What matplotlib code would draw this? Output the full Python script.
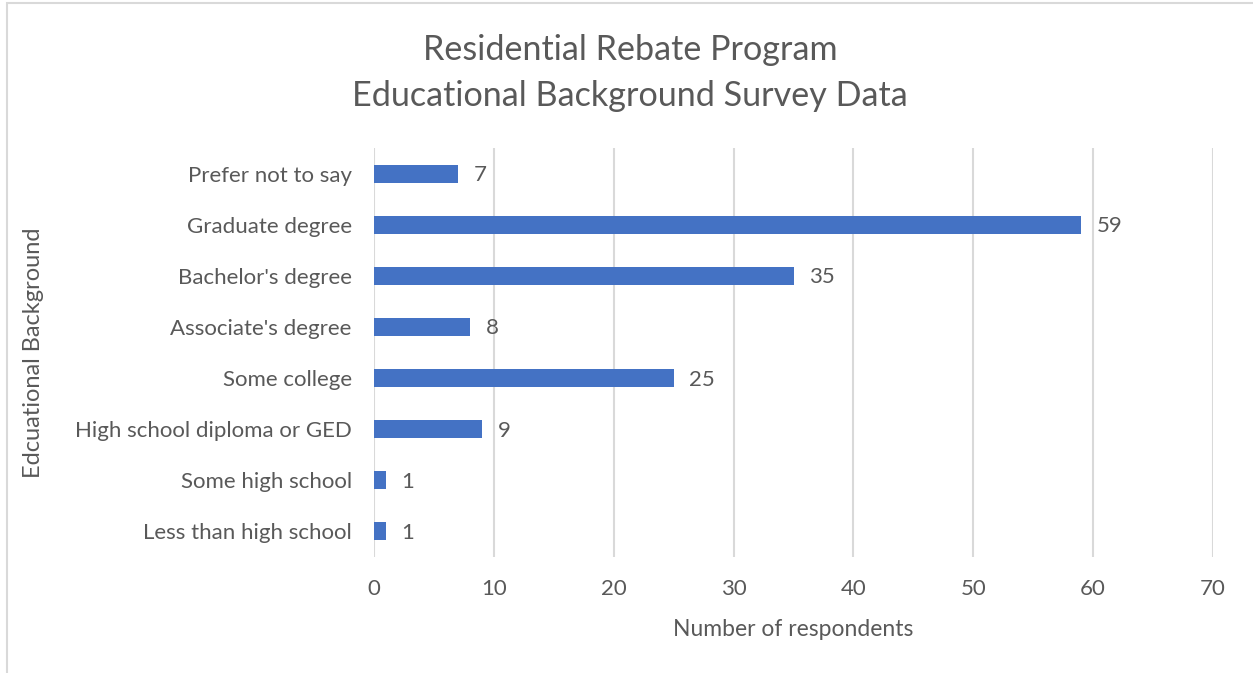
import matplotlib.pyplot as plt
from matplotlib.patches import Rectangle

plt.rcParams['font.family'] = ['Lato', 'DejaVu Sans']

categories = ["Less than high school", "Some high school", "High school diploma or GED",
              "Some college", "Associate's degree", "Bachelor's degree",
              "Graduate degree", "Prefer not to say"]
respondents = [1, 1, 9, 25, 8, 35, 59, 7]
x_ticks = [0, 10, 20, 30, 40, 50, 60, 70]

text_color = '#595959'
grid_color = '#d9d9d9'
bar_color = '#4472c4'

fig = plt.figure(figsize=(12.53, 6.73), dpi=100)
fig.patches.append(Rectangle((7 / 1253, -0.1), 1.2, 1.1 - 3 / 673, transform=fig.transFigure,
                             fill=False, edgecolor=grid_color, linewidth=1.5))
ax = fig.add_axes([0.2985, 0.1724, 0.6696, 0.6076])

ypos = range(len(categories))
ax.barh(ypos, respondents, height=0.35, color=bar_color, zorder=3)
for y, v in zip(ypos, respondents):
    ax.text(v + 1.3, y - 0.03, str(v), va='center', ha='left', fontsize=16, color=text_color)

ax.set_xlim(0, 70)
ax.set_ylim(-0.5, len(categories) - 0.5)
ax.set_xticks(x_ticks)
ax.set_yticks(list(ypos))
ax.set_yticklabels(categories)
ax.tick_params(axis='both', length=0, labelsize=16, labelcolor=text_color)
ax.tick_params(axis='x', pad=16)
ax.tick_params(axis='y', pad=16)
ax.grid(axis='x', color=grid_color, linewidth=1.5, zorder=0)
for s in ax.spines.values():
    s.set_visible(False)

ax.set_xlabel('Number of respondents', fontsize=16.5, color=text_color, labelpad=14)
fig.text(0.027, 0.4758, 'Edcuational Background', rotation=90, va='center', ha='center',
         fontsize=17, color=text_color)
fig.text(0.503, 0.892, 'Residential Rebate Program\nEducational Background Survey Data',
         ha='center', va='center', fontsize=24.6, color=text_color, linespacing=1.55)

plt.savefig('out.png', dpi=100)
